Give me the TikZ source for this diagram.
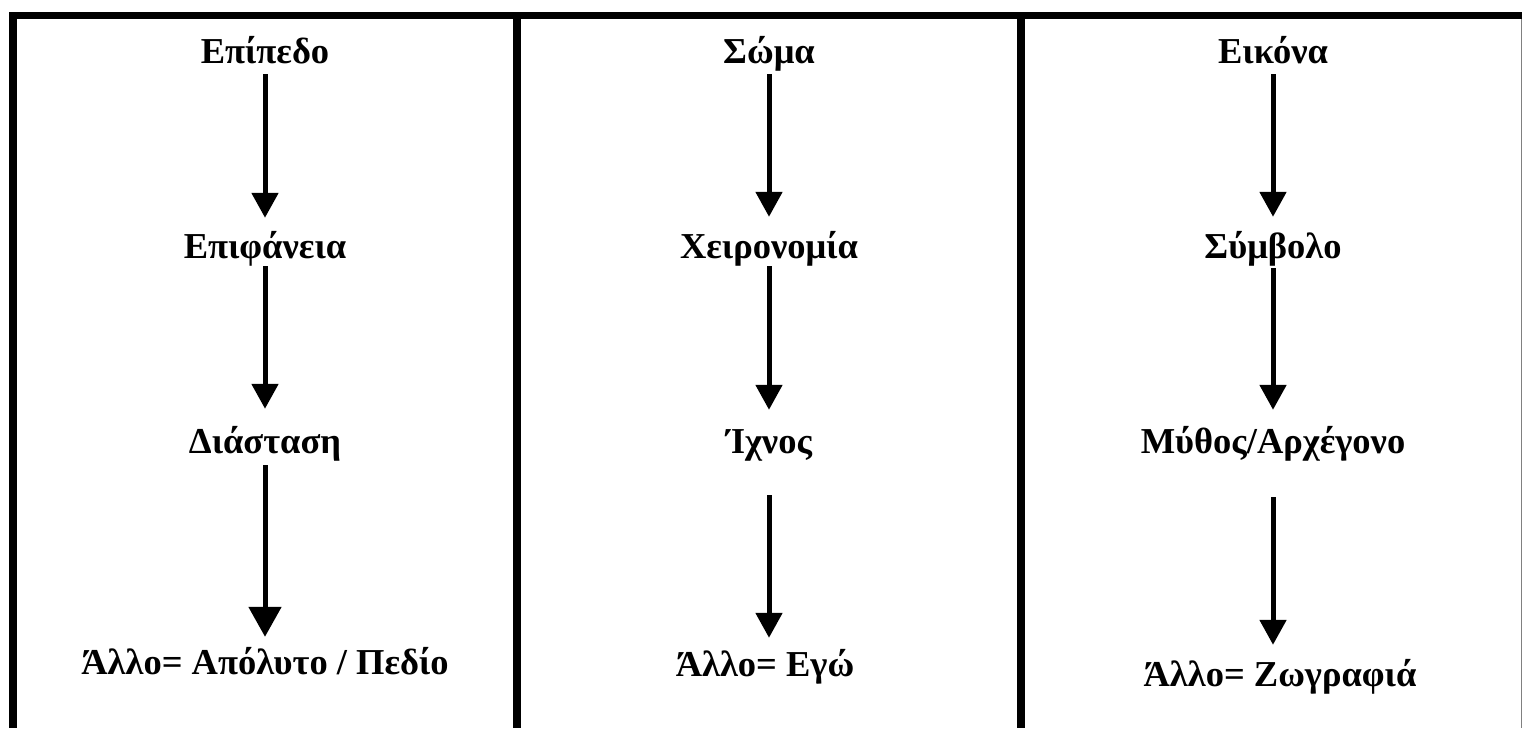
\documentclass[tikz,border=0pt]{standalone}
\usepackage{fontspec}
\setmainfont{Liberation Serif}
\usetikzlibrary{arrows.meta}
\tikzset{
  lbl/.style={anchor=base, inner sep=0pt, text height=22pt, text depth=7pt,
              font=\fontsize{36.5}{40}\selectfont\bfseries},
  flow/.style={line width=5pt, -{Triangle[length=25pt,width=26pt]}},
  bigflow/.style={line width=5pt, -{Triangle[length=30pt,width=32pt]}},
  border/.style={fill=black}
}
\begin{document}
\begin{tikzpicture}[x=1pt,y=-1pt]
\useasboundingbox (0,0) rectangle (1522,728);
% frame
\fill[border] (9,12) rectangle (1522,19);
\fill[border] (9,12) rectangle (17,728);
\fill[border] (513,12) rectangle (521,728);
\fill[border] (1017,12) rectangle (1025,728);
\draw[gray, line width=1pt] (1521.5,19) -- (1521.5,728);
% column 1
\node[lbl] (a1) at (265,63) {Επίπεδο};
\node[lbl] (a2) at (265,258) {Επιφάνεια};
\node[lbl] (a3) at (265,453) {Διάσταση};
\node[lbl] (a4) at (265,674) {Άλλο= Απόλυτο / Πεδίο};
\draw[flow, shorten <=4pt, shorten >=18pt] (a1.south) -- (a2.north);
\draw[flow, shorten <=1pt, shorten >=22pt] (a2.south) -- (a3.north);
\draw[bigflow, shorten <=5pt, shorten >=15pt] (a3.south) -- (a4.north);
% column 2
\node[lbl] (b1) at (769,63) {Σώμα};
\node[lbl] (b2) at (769,258) {Χειρονομία};
\node[lbl] (b3) at (769,453) {Ίχνος};
\node[lbl] (b4) at (765,676) {Άλλο= Εγώ};
\draw[flow, shorten <=4pt, shorten >=19pt] (b1.south) -- (b2.north);
\draw[flow, shorten <=1pt, shorten >=21pt] (b2.south) -- (b3.north);
\draw[flow, shorten <=35pt, shorten >=16pt] (b3.south) -- (b3.south |- b4.north);
% column 3
\node[lbl] (c1) at (1273,63) {Εικόνα};
\node[lbl] (c2) at (1273,258) {Σύμβολο};
\node[lbl] (c3) at (1273,453) {Μύθος/Αρχέγονο};
\node[lbl] (c4) at (1280,686) {Άλλο= Ζωγραφιά};
\draw[flow, shorten <=4pt, shorten >=19pt] (c1.south) -- (c2.north);
\draw[flow, shorten <=3pt, shorten >=21pt] (c2.south) -- (c3.north);
\draw[flow, shorten <=37pt, shorten >=19pt] (c3.south) -- (c3.south |- c4.north);
\end{tikzpicture}
\end{document}
